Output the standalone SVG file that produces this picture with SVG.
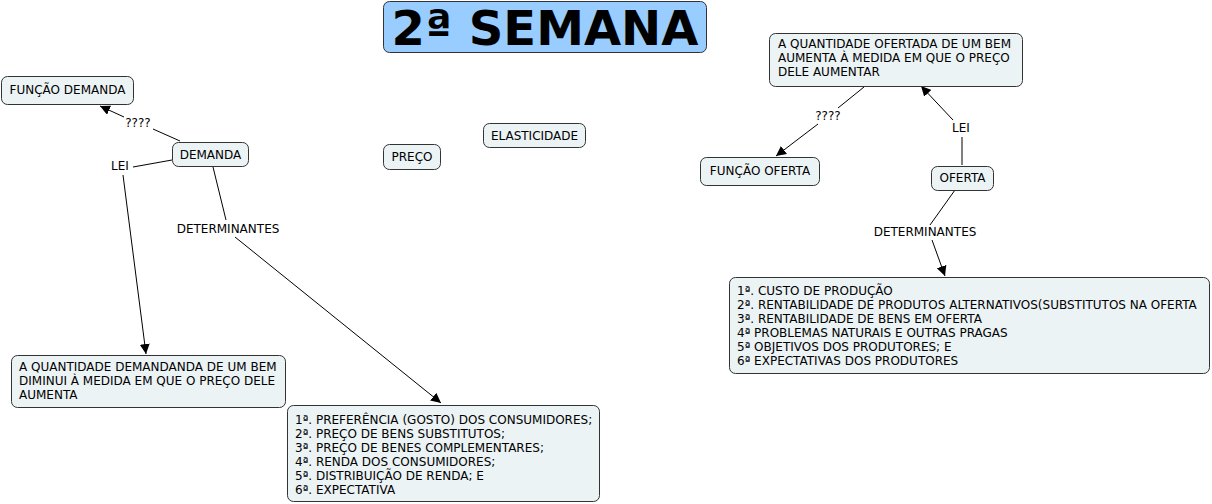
<svg xmlns="http://www.w3.org/2000/svg" width="1212" height="504" viewBox="0 0 1212 504">
<style>
.n{fill:#ecf3f5;stroke:#333;stroke-width:1}
.t{font-family:"DejaVu Sans",sans-serif;font-size:12px;fill:#000}
.c{text-anchor:middle}
.l{stroke:#000;stroke-width:1;fill:none}
.lb{font-family:"DejaVu Sans",sans-serif;font-size:12px;fill:#000;text-anchor:middle}
</style>
<defs>
<marker id="a" viewBox="0 0 10 10" refX="10" refY="5" markerWidth="10" markerHeight="10" markerUnits="userSpaceOnUse" orient="auto"><path d="M0,0 L10,5 L0,10 z" fill="#000"/></marker>
</defs>
<rect width="1212" height="504" fill="#fff"/>
<g id="connectors">
<path class="l" d="M180,141 L153,129"/><path class="l" d="M124,117 L100,106" marker-end="url(#a)"/>
<text class="lb" x="138" y="127">????</text>
<path class="l" d="M172,160 L133,167"/><path class="l" d="M123,175 L146,354" marker-end="url(#a)"/>
<text class="lb" x="120" y="170">LEI</text>
<path class="l" d="M213,167 L226,220"/><path class="l" d="M235,237 L441,403" marker-end="url(#a)"/>
<text class="lb" x="228" y="233">DETERMINANTES</text>
<path class="l" d="M962,165 L962,137"/><path class="l" d="M953,120 L921,86" marker-end="url(#a)"/>
<text class="lb" x="961" y="132">LEI</text>
<path class="l" d="M864,87 L838,108"/><path class="l" d="M818,124 L776,156" marker-end="url(#a)"/>
<text class="lb" x="828" y="120">????</text>
<path class="l" d="M955,190 L930,225"/><path class="l" d="M932,240 L945,276" marker-end="url(#a)"/>
<text class="lb" x="925" y="236">DETERMINANTES</text>
</g>
<g id="title"><rect x="383.5" y="1.5" width="323" height="51" rx="6" fill="#99ccff" stroke="#333"/>
<text x="545" y="45" text-anchor="middle" font-family="DejaVu Sans,sans-serif" font-weight="bold" font-size="48">2ª SEMANA</text></g>
<g id="funcao-demanda"><rect class="n" x="1.5" y="76.5" width="132" height="28" rx="6"/><text class="t c" x="67.5" y="94">FUNÇÃO DEMANDA</text></g>
<g id="demanda"><rect class="n" x="172.5" y="142.5" width="76" height="24" rx="6"/><text class="t c" x="210.5" y="159">DEMANDA</text></g>
<g id="preco"><rect class="n" x="383.5" y="144.5" width="57" height="25" rx="6"/><text class="t c" x="412" y="161">PREÇO</text></g>
<g id="elasticidade"><rect class="n" x="483.5" y="123.5" width="102" height="24" rx="6"/><text class="t c" x="534.5" y="140">ELASTICIDADE</text></g>
<g id="lei-oferta-texto"><rect class="n" x="769.5" y="33.5" width="253" height="53" rx="6"/>
<text class="t" x="778"><tspan x="778" y="48">A QUANTIDADE OFERTADA DE UM BEM</tspan><tspan x="778" y="62">AUMENTA À MEDIDA EM QUE O PREÇO</tspan><tspan x="778" y="76">DELE AUMENTAR</tspan></text></g>
<g id="funcao-oferta"><rect class="n" x="700.5" y="157.5" width="119" height="28" rx="6"/><text class="t c" x="760" y="175">FUNÇÃO OFERTA</text></g>
<g id="oferta"><rect class="n" x="931.5" y="166.5" width="62" height="24" rx="6"/><text class="t c" x="962.5" y="182">OFERTA</text></g>
<g id="determinantes-oferta"><rect class="n" x="729.5" y="277.5" width="480" height="96" rx="6"/>
<text class="t"><tspan x="737" y="295">1ª. CUSTO DE PRODUÇÃO</tspan><tspan x="737" y="309">2ª. RENTABILIDADE DE PRODUTOS ALTERNATIVOS(SUBSTITUTOS NA OFERTA</tspan><tspan x="737" y="323">3ª. RENTABILIDADE DE BENS EM OFERTA</tspan><tspan x="737" y="337">4ª PROBLEMAS NATURAIS E OUTRAS PRAGAS</tspan><tspan x="737" y="351">5ª OBJETIVOS DOS PRODUTORES; E</tspan><tspan x="737" y="365">6ª EXPECTATIVAS DOS PRODUTORES</tspan></text></g>
<g id="lei-demanda-texto"><rect class="n" x="11.5" y="355.5" width="274" height="52" rx="6"/>
<text class="t"><tspan x="19" y="371">A QUANTIDADE DEMANDANDA DE UM BEM</tspan><tspan x="19" y="385">DIMINUI À MEDIDA EM QUE O PREÇO DELE</tspan><tspan x="19" y="399">AUMENTA</tspan></text></g>
<g id="determinantes-demanda"><rect class="n" x="287.5" y="405.5" width="312" height="96" rx="6"/>
<text class="t"><tspan x="295" y="424">1ª. PREFERÊNCIA (GOSTO) DOS CONSUMIDORES;</tspan><tspan x="295" y="438">2ª. PREÇO DE BENS SUBSTITUTOS;</tspan><tspan x="295" y="452">3ª. PREÇO DE BENES COMPLEMENTARES;</tspan><tspan x="295" y="466">4ª. RENDA DOS CONSUMIDORES;</tspan><tspan x="295" y="480">5ª. DISTRIBUIÇÃO DE RENDA; E</tspan><tspan x="295" y="494">6ª. EXPECTATIVA</tspan></text></g>
</svg>
